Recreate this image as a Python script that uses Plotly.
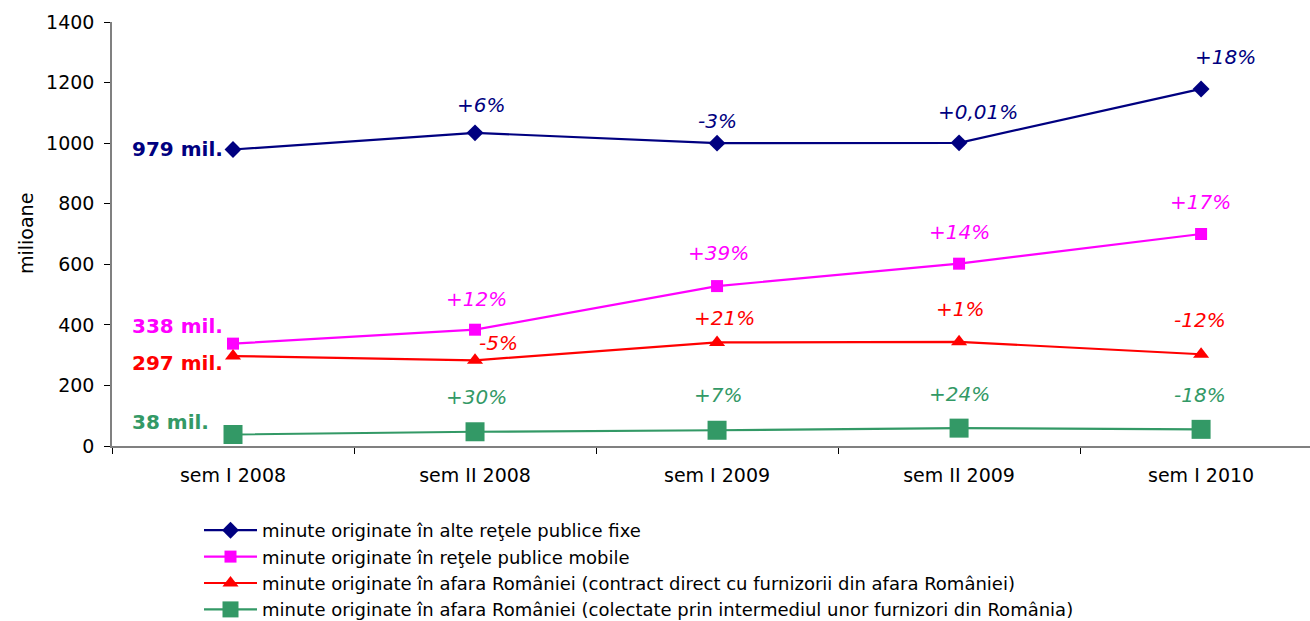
import plotly.graph_objects as go

categories = ["sem I 2008", "sem II 2008", "sem I 2009", "sem II 2009", "sem I 2010"]

names = [
    "minute originate în alte reţele publice fixe",
    "minute originate în reţele publice mobile",
    "minute originate în afara României (contract direct cu furnizorii din afara României)",
    "minute originate în afara României (colectate prin intermediul unor furnizori din România)",
]

fixe = [979, 1034, 1000, 1001, 1179]
mobile = [338, 384, 528, 602, 700]
direct = [297, 283, 342, 344, 303]
colectate = [38, 47, 52, 59, 55]

pct_fixe = ["", "+6%", "-3%", "+0,01%", "+18%"]
pct_mobile = ["", "+12%", "+39%", "+14%", "+17%"]
pct_direct = ["", "-5%", "+21%", "+1%", "-12%"]
pct_colectate = ["", "+30%", "+7%", "+24%", "-18%"]

start_labels = ["979 mil.", "338 mil.", "297 mil.", "38 mil."]
y_title = "milioane"

series = [fixe, mobile, direct, colectate]
pcts = [pct_fixe, pct_mobile, pct_direct, pct_colectate]

colors = ["#000080", "#FF00FF", "#FF0000", "#339966"]
symbols = ["diamond", "square", "triangle-up", "square"]
msizes = [13, 12, 14, 19]

# label offsets (pixels) for percent annotations
pct_dx = [[0, 6, 0, 19, 24], [0, 1, 1, 0, -1], [0, 23, 7, 1, -1], [0, 1, 1, 0, -1]]
pct_dy = [[0, 28, 22, 31, 32], [0, 31, 33, 32, 32], [0, 17, 24, 33, 34], [0, 35, 35, 34, 34]]
start_dy = [1, 18, -7, 12]

FONT = "DejaVu Sans"

fig = go.Figure()
for s, name, c, sym, ms in zip(series, names, colors, symbols, msizes):
    fig.add_trace(go.Scatter(
        x=categories, y=s, name=name, mode="lines+markers",
        line=dict(color=c, width=2.2),
        marker=dict(symbol=sym, size=ms, color=c),
    ))

annotations = []
for k in range(4):
    for i, cat in enumerate(categories):
        if pcts[k][i]:
            annotations.append(dict(
                x=cat, y=series[k][i], text="<i>" + pcts[k][i] + "</i>",
                showarrow=False, xanchor="center", yanchor="middle",
                xshift=pct_dx[k][i], yshift=pct_dy[k][i],
                font=dict(family=FONT, size=20, color=colors[k]),
            ))
    annotations.append(dict(
        x=categories[0], y=series[k][0], text="<b>" + start_labels[k] + "</b>",
        showarrow=False, xanchor="left", yanchor="middle",
        xshift=-103, yshift=start_dy[k],
        font=dict(family=FONT, size=20, color=colors[k]),
    ))
annotations.append(dict(
    x=0, y=0.5, xref="paper", yref="paper", text=y_title, textangle=-90,
    showarrow=False, xanchor="center", yanchor="middle", xshift=-86,
    font=dict(family=FONT, size=19, color="black"),
))

fig.update_layout(
    width=1310, height=621,
    margin=dict(l=112, r=0, t=22, b=175, autoexpand=False),
    paper_bgcolor="white", plot_bgcolor="white",
    font=dict(family=FONT, size=19, color="black"),
    showlegend=True,
    legend=dict(
        x=199 / 1310, xref="container", y=1 - 512 / 621, yref="container",
        xanchor="left", yanchor="top",
        font=dict(family=FONT, size=18, color="black"),
        itemwidth=53, tracegroupgap=0, bgcolor="rgba(0,0,0,0)",
    ),
    annotations=annotations,
)
fig.update_xaxes(
    type="category", range=[-0.5, 4.45], automargin=False,
    showline=True, linecolor="#808080", linewidth=1.5,
    ticks="outside", tickson="boundaries", ticklen=6, tickcolor="#000000",
    ticklabelstandoff=11,
    showgrid=False, zeroline=False,
    tickfont=dict(family=FONT, size=19),
)
fig.update_yaxes(
    range=[0, 1400], dtick=200, automargin=False,
    showline=True, linecolor="#808080", linewidth=1.5,
    ticks="outside", ticklen=6, tickcolor="#000000",
    ticklabelstandoff=6,
    showgrid=False, zeroline=False,
    tickfont=dict(family=FONT, size=19),
)

fig.write_html(
    "out.html",
    config={"displayModeBar": False},
    post_script="document.body.style.margin='0';",
)
